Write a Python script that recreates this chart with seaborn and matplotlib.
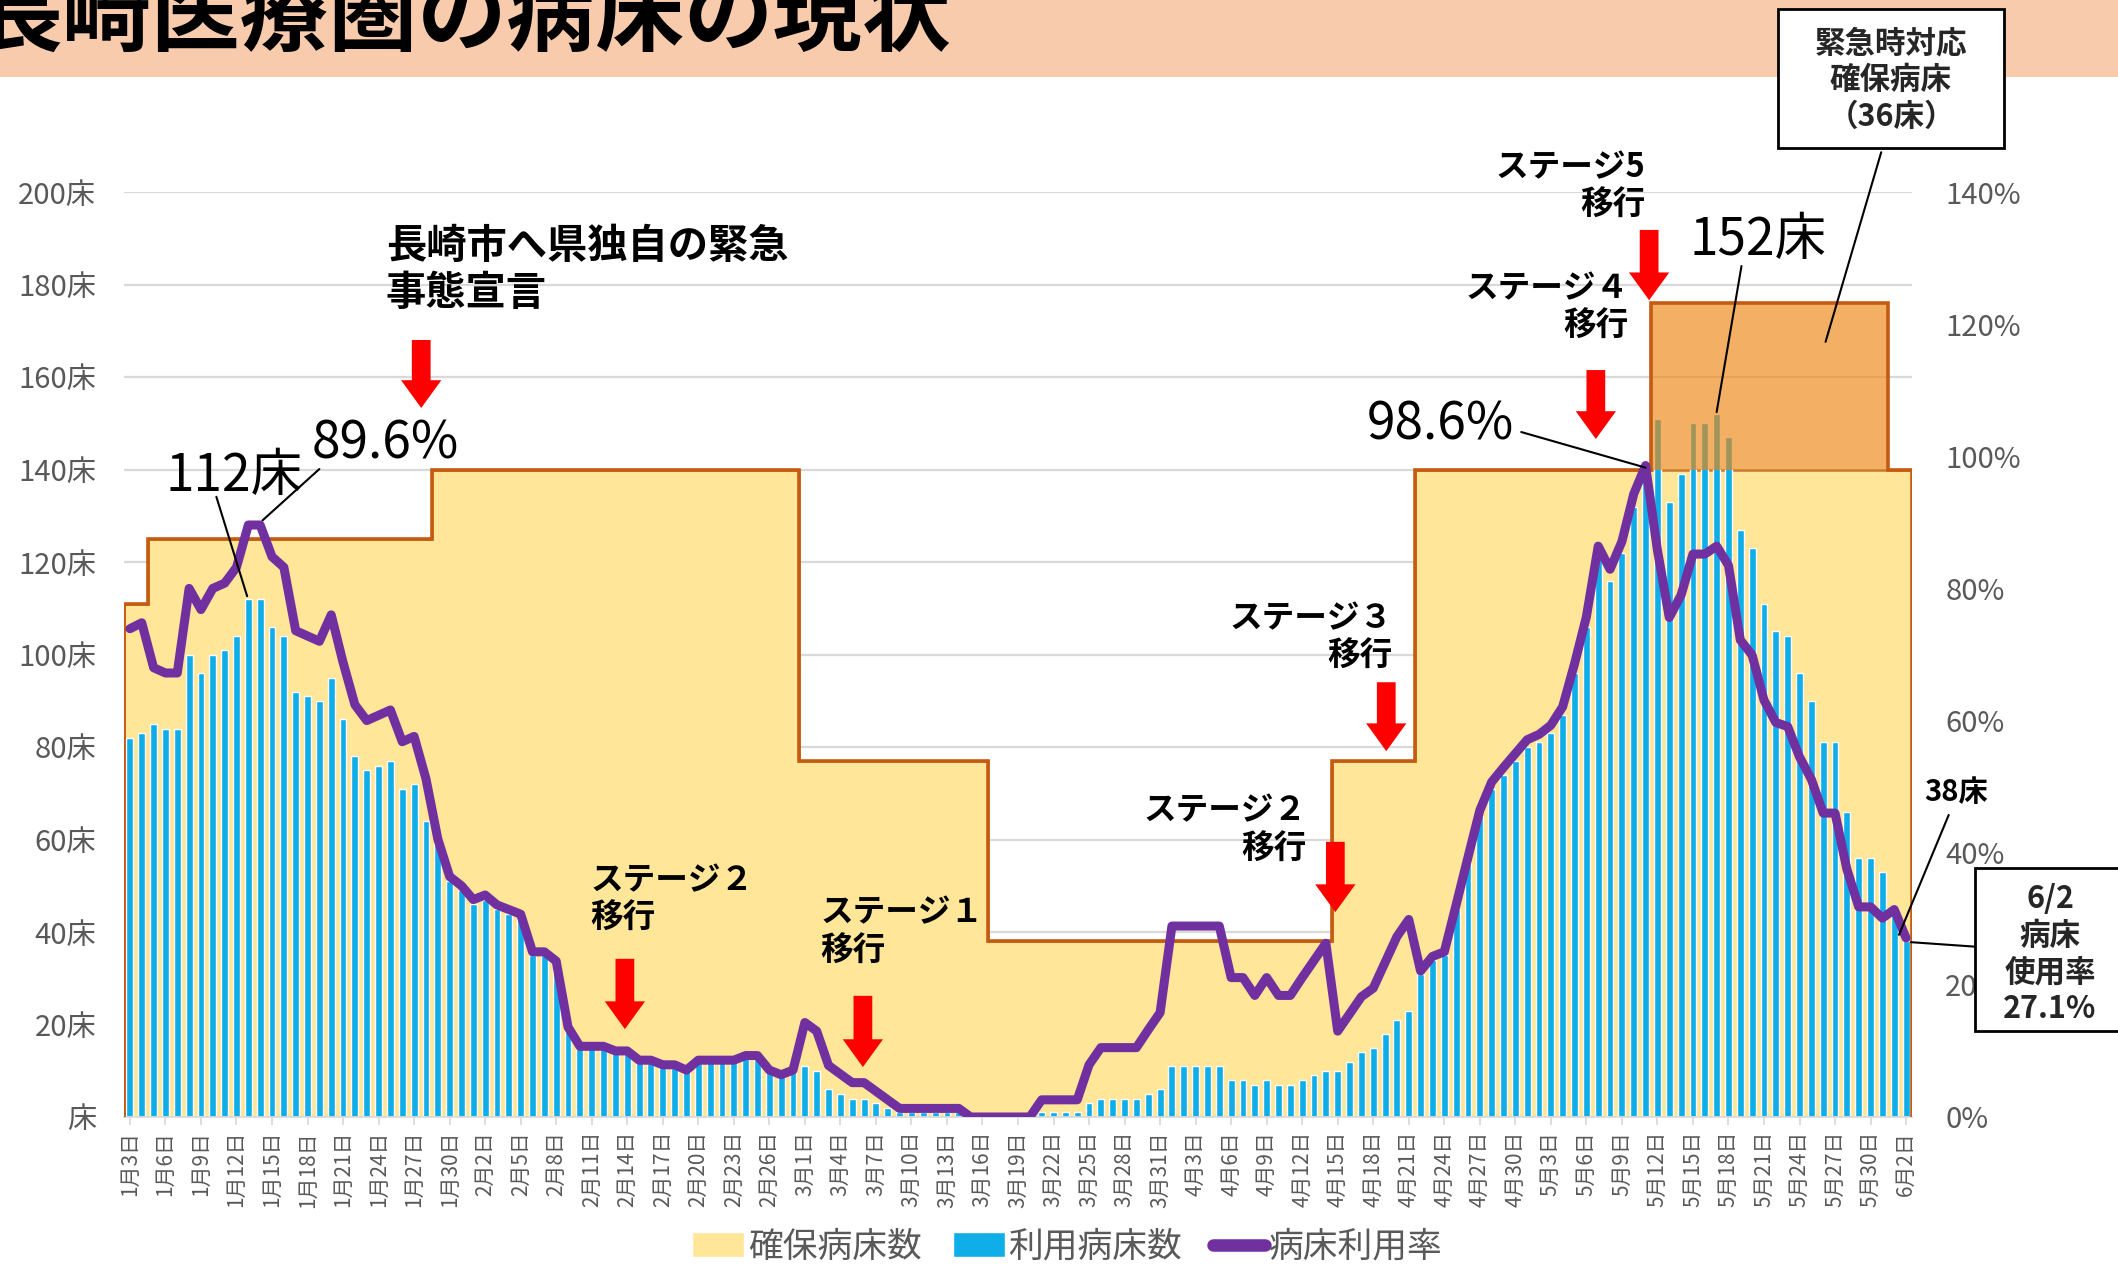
import numpy as np
import pandas as pd
import matplotlib
matplotlib.use("Agg")
import matplotlib.pyplot as plt
import seaborn as sns
from matplotlib.patches import Patch, Rectangle
from matplotlib.lines import Line2D

sns.set_theme(style="white")
plt.rcParams["font.family"] = ["Noto Sans CJK JP", "DejaVu Sans"]

# ---- data ----
dates = pd.date_range("2021-01-03", "2021-06-02")

# 利用病床数
used_jan = [82, 83, 85, 84, 84, 100, 96, 100, 101, 104, 112, 112, 106, 104, 92, 91, 90, 95,
            86, 78, 75, 76, 77, 71, 72, 64, 59, 51, 49]
used_feb = [46, 47, 45, 44, 43, 35, 35, 33, 19, 15, 15, 15, 14, 14, 12, 12, 11, 11, 10, 12,
            12, 12, 12, 13, 13, 10, 9, 10]
used_mar = [11, 10, 6, 5, 4, 4, 3, 2, 1, 1, 1, 1, 1, 1, 0, 0, 0, 0, 0, 0, 1, 1, 1, 1, 3, 4,
            4, 4, 4, 5, 6]
used_apr = [11, 11, 11, 11, 11, 8, 8, 7, 8, 7, 7, 8, 9, 10, 10, 12, 14, 15, 18, 21, 23, 31,
            34, 35, 45, 55, 65, 71, 74, 77]
used_may = [80, 81, 83, 87, 96, 106, 121, 116, 122, 132, 138, 151, 133, 139, 150, 150, 152,
            147, 127, 123, 111, 105, 104, 96, 90, 81, 81, 66, 56, 56, 53]
used_jun = [44, 38]

# 病床利用率 (%)
rate_jan = [73.9, 74.8, 68.0, 67.2, 67.2, 80.0, 76.8, 80.0, 80.8, 83.2, 89.6, 89.6, 84.8, 83.2,
            73.6, 72.8, 72.0, 76.0, 68.8, 62.4, 60.0, 60.8, 61.6, 56.8, 57.6, 51.2, 42.1, 36.4,
            35.0]
rate_feb = [32.9, 33.6, 32.1, 31.4, 30.7, 25.0, 25.0, 23.6, 13.6, 10.7, 10.7, 10.7, 10.0, 10.0,
            8.6, 8.6, 7.9, 7.9, 7.1, 8.6, 8.6, 8.6, 8.6, 9.3, 9.3, 7.1, 6.4, 7.1]
rate_mar = [14.3, 13.0, 7.8, 6.5, 5.2, 5.2, 3.9, 2.6, 1.3, 1.3, 1.3, 1.3, 1.3, 1.3, 0.0, 0.0,
            0.0, 0.0, 0.0, 0.0, 2.6, 2.6, 2.6, 2.6, 7.9, 10.5, 10.5, 10.5, 10.5, 13.2, 15.8]
rate_apr = [28.9, 28.9, 28.9, 28.9, 28.9, 21.1, 21.1, 18.4, 21.1, 18.4, 18.4, 21.1, 23.7, 26.3,
            13.0, 15.6, 18.2, 19.5, 23.4, 27.3, 29.9, 22.1, 24.3, 25.0, 32.1, 39.3, 46.4, 50.7,
            52.9, 55.0]
rate_may = [57.1, 57.9, 59.3, 62.1, 68.6, 75.7, 86.4, 82.9, 87.1, 94.3, 98.6, 85.8, 75.6, 79.0,
            85.2, 85.2, 86.4, 83.5, 72.2, 69.9, 63.1, 59.7, 59.1, 54.5, 51.1, 46.0, 46.0, 37.5,
            31.8, 31.8, 30.1]
rate_jun = [31.4, 27.1]

# 確保病床数: levels and how many days each lasted
cap_levels = [111, 125, 140, 77, 38, 77, 140]
cap_days = [2, 24, 31, 16, 29, 7, 42]
# 緊急時対応確保病床 (on top of 140)
extra_levels = [0, 36, 0]
extra_days = [129, 20, 2]

left_ticks = [0, 20, 40, 60, 80, 100, 120, 140, 160, 180, 200]
right_ticks = [0, 20, 40, 60, 80, 100, 120, 140]

used = used_jan + used_feb + used_mar + used_apr + used_may + used_jun
rate = rate_jan + rate_feb + rate_mar + rate_apr + rate_may + rate_jun
capacity = np.repeat(cap_levels, cap_days)
extra = np.repeat(extra_levels, extra_days)
labels = [f"{d.month}月{d.day}日" for d in dates]

df = pd.DataFrame({"day": labels, "used": used, "rate": rate, "cap": capacity})
n = len(df)
edges = np.arange(n + 1) - 0.5

YELLOW = "#FFE699"
BLUE = "#0FAEE8"
PURPLE = "#7030A0"
BROWN = "#C27A36"
GREY = "#595959"

W, H = 2118, 1265
fig = plt.figure(figsize=(W / 100, H / 100), dpi=100)
fig.patch.set_facecolor("white")

# title band
fig.patches.append(Rectangle((0, 1 - 77 / H), 1, 77 / H, transform=fig.transFigure,
                             facecolor="#F8CBAD", edgecolor="none", zorder=0))
fig.text(-26 / W, 1 - 18 / H, "長崎医療圏の病床の現状", fontsize=64, fontweight="bold",
         ha="left", va="center", color="black")

ax = fig.add_axes([124 / W, 148 / H, (1912 - 124) / W, (1117 - 192) / H])
ax2 = ax.twinx()

# capacity area + outline
ax.stairs(df["cap"], edges, fill=True, color=YELLOW, zorder=1)
ax.stairs(df["cap"], edges, color=BROWN, lw=1.8, zorder=1.5)

sns.barplot(data=df, x="day", y="used", color=BLUE, saturation=1, width=0.58,
            errorbar=None, ax=ax, zorder=2)

# emergency beds box over the bars
ax.stairs(capacity + extra, edges, baseline=capacity, fill=True, color="#EE8611",
          alpha=0.65, lw=0, zorder=3)
ax.stairs(np.where(extra > 0, capacity + extra, capacity), edges, color="#C55A11",
          lw=2.6, zorder=3.5)

ax.set_xlim(-0.5, n - 0.5)
ax.set_ylim(0, 200)
ax.set_yticks(left_ticks)
ax.set_yticklabels([f"{v}床" if v else "床" for v in left_ticks], fontsize=21, color=GREY)
ax.yaxis.grid(True, color="#D9D9D9", lw=1.6)
ax.set_axisbelow(True)
ax.set_xticks(range(0, n, 3))
ax.set_xticklabels(labels[::3], rotation=90, fontsize=15, color=GREY)
ax.tick_params(axis="x", length=6, color="#D9D9D9", pad=4, bottom=True)
ax.tick_params(axis="y", length=0, pad=20)
ax.set_xlabel("")
ax.set_ylabel("")
for s in ["top", "right", "left"]:
    ax.spines[s].set_visible(False)
ax.spines["bottom"].set_color("#D9D9D9")

# usage rate line
sns.lineplot(x=np.arange(n), y=df["rate"], ax=ax2, color=PURPLE, lw=6.5,
             solid_joinstyle="round", solid_capstyle="round")
ax2.set_xlim(-0.5, n - 0.5)
ax2.set_ylim(0, 140)
ax2.set_yticks(right_ticks)
ax2.set_yticklabels([f"{v}%" for v in right_ticks], fontsize=21, color=GREY)
ax2.tick_params(axis="y", length=0, pad=24)
ax2.set_ylabel("")
for s in ax2.spines.values():
    s.set_visible(False)

T = ax.transData


def arrow(x, y0, y1):
    ax2.annotate("", xy=(x, y1), xytext=(x, y0), xycoords=T, textcoords=T,
                 annotation_clip=False,
                 arrowprops=dict(arrowstyle="simple,head_length=20,head_width=29,tail_width=13.5",
                                 mutation_scale=1, color="red", lw=0,
                                 shrinkA=0, shrinkB=0))


def leader(x0, y0, x1, y1):
    ax2.annotate("", xy=(x1, y1), xytext=(x0, y0), xycoords=T, textcoords=T,
                 annotation_clip=False,
                 arrowprops=dict(arrowstyle="-", color="black", lw=1.5,
                                 shrinkA=0, shrinkB=0))


def note(x, y, s, size=23.5, ha="left", weight="bold"):
    ax2.text(x, y, s, transform=T, fontsize=size, fontweight=weight, ha=ha, va="center",
             color="black", linespacing=1.2, clip_on=False)


note(21.6, 183.2, "長崎市へ県独自の緊急\n事態宣言", size=29)
arrow(24.6, 168, 153.3)

note(38.9, 47.0, "ステージ２\n移行")
arrow(41.8, 34.2, 19.0)
note(58.3, 40.0, "ステージ１\n移行")
arrow(61.9, 26.2, 10.8)
note(99.4, 62.0, "ステージ２\n移行", ha="right")
arrow(101.8, 59.5, 44.3)
note(106.6, 103.7, "ステージ３\n移行", ha="right")
arrow(106.1, 94.0, 79.1)
note(126.6, 175.0, "ステージ４\n移行", ha="right")
arrow(123.8, 161.5, 146.6)
note(128.0, 201.2, "ステージ5\n移行", ha="right")
arrow(128.3, 191.8, 176.6)

note(8.8, 138.6, "112床", size=37, ha="center", weight="normal")
leader(7.3, 134.1, 9.9, 112.6)
note(21.6, 145.5, "89.6%", size=37, ha="center", weight="normal")
leader(16.0, 140.1, 11.2, 129.0)
note(110.7, 149.6, "98.6%", size=37, ha="center", weight="normal")
leader(117.5, 148.1, 128.0, 140.4)
note(137.5, 189.6, "152床", size=37, ha="center", weight="normal")
leader(136.1, 184.0, 134.0, 152.4)
note(154.2, 70.3, "38床", size=21, ha="center")
leader(153.6, 65.3, 149.4, 39.4)
leader(147.9, 208.6, 143.2, 167.6)
leader(150.4, 37.8, 156.0, 36.8)

# callout boxes
fig.patches.append(Rectangle((1778 / W, 1 - 148 / H), 226 / W, 139 / H,
                             transform=fig.transFigure, facecolor="white",
                             edgecolor="black", lw=2, zorder=4))
fig.text(1891 / W, 1 - 80 / H, "緊急時対応\n確保病床\n（36床）", fontsize=22,
         fontweight="bold", ha="center", va="center", linespacing=1.2, zorder=5)
fig.patches.append(Rectangle((1975 / W, 1 - 1031 / H), 160 / W, 163 / H,
                             transform=fig.transFigure, facecolor="white",
                             edgecolor="black", lw=2, zorder=4))
fig.text(2050 / W, 1 - 954 / H, "6/2\n病床\n使用率\n27.1%", fontsize=22,
         fontweight="bold", ha="center", va="center", linespacing=1.2, zorder=5)

handles = [Patch(facecolor=YELLOW), Patch(facecolor=BLUE),
           Line2D([0], [0], color=PURPLE, lw=9)]
fig.legend(handles, ["確保病床数", "利用病床数", "病床利用率"], loc="center",
           bbox_to_anchor=(0.504, 0.014), ncol=3, frameon=False, fontsize=25,
           labelcolor=GREY, handlelength=1.5, handletextpad=0.1, columnspacing=0.9)

fig.savefig("out.png", dpi=100)
